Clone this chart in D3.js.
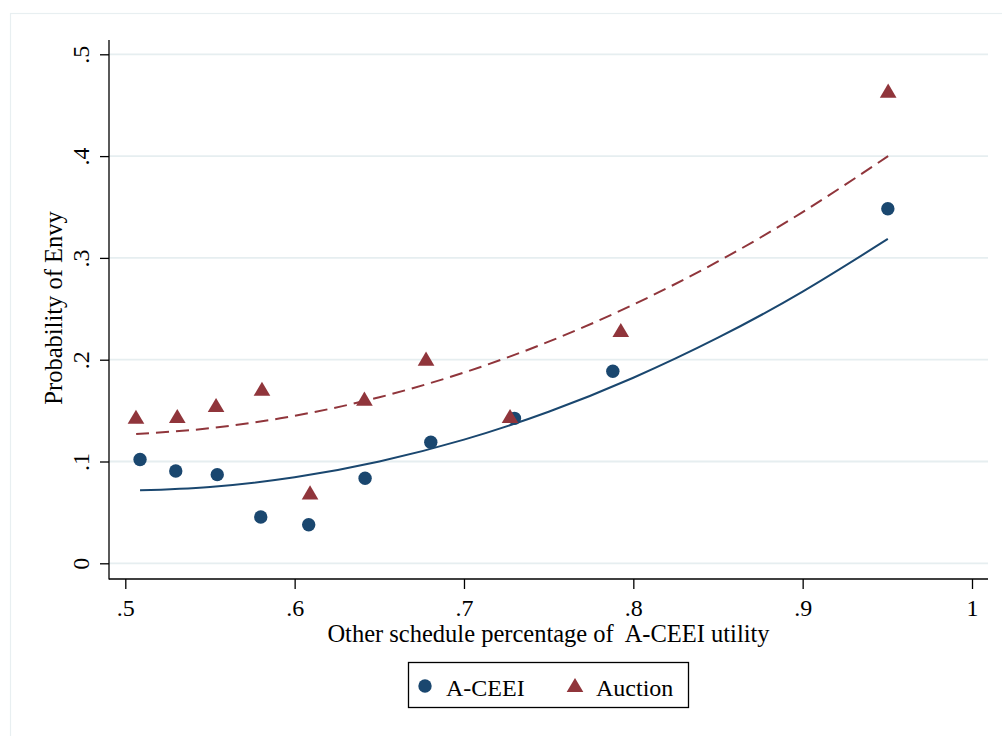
<!DOCTYPE html>
<html>
<head>
<meta charset="utf-8">
<script src="https://cdnjs.cloudflare.com/ajax/libs/d3/7.8.5/d3.min.js"></script>
<style>
    body { margin: 0; background: #fff; }
    svg text { font-family: "Liberation Serif", "Times New Roman", serif; fill: #000; }
</style>
</head>
<body>
<div class="wrapper-svg"></div>
<script>
// points
var aceeiX = [0.5087, 0.5298, 0.5543, 0.5800, 0.6083, 0.6416, 0.6804, 0.7298, 0.7879, 0.9503];
var aceeiY = [0.102, 0.0907, 0.0871, 0.0455, 0.0379, 0.0835, 0.119, 0.1424, 0.1886, 0.3483];
var auctionX = [0.5063, 0.5307, 0.5536, 0.5807, 0.6091, 0.6412, 0.6776, 0.7272, 0.7926, 0.9505];
var auctionY = [0.144, 0.1447, 0.1555, 0.1715, 0.0697, 0.1617, 0.201, 0.1447, 0.2292, 0.4643];

// quadratic fit lines
var fitAceeiX = [0.5087, 0.55, 0.60, 0.65, 0.70, 0.75, 0.80, 0.85, 0.90, 0.9503];
var fitAceeiY = [0.0717, 0.0750, 0.0845, 0.1000, 0.1215, 0.1489, 0.1823, 0.2216, 0.2669, 0.3186];
var fitAuctionX = [0.5064, 0.55, 0.60, 0.65, 0.70, 0.75, 0.80, 0.85, 0.90, 0.9505];
var fitAuctionY = [0.127, 0.1327, 0.1449, 0.1631, 0.1874, 0.2177, 0.2541, 0.2965, 0.345, 0.400];

var xTicks = [0.5, 0.6, 0.7, 0.8, 0.9, 1];
var xTickLabels = ['.5', '.6', '.7', '.8', '.9', '1'];
var yTicks = [0, 0.1, 0.2, 0.3, 0.4, 0.5];
var yTickLabels = ['0', '.1', '.2', '.3', '.4', '.5'];

var seriesNames = ['A-CEEI', 'Auction'];

var navy = '#1a476f';
var maroon = '#90353b';

// triangle centred on the middle of its box, like the stata marker
var boxTriangle = {
    draw: function(context, size) {
        var w = Math.sqrt(size * 2 / 0.85);
        var h = w * 0.85;
        context.moveTo(0, -h / 2);
        context.lineTo(w / 2, h / 2);
        context.lineTo(-w / 2, h / 2);
        context.closePath();
    }
};

var svg = d3.select('.wrapper-svg')
    .append('svg')
    .attr('width', 1002)
    .attr('height', 736);

svg.append('rect')
    .attr('x', 10.5)
    .attr('y', 13.5)
    .attr('width', 1010)
    .attr('height', 740)
    .attr('fill', '#fff')
    .attr('stroke', '#e8eff1')
    .attr('stroke-width', 1.2);

var x = d3.scaleLinear().domain([0.5, 1]).range([125.3, 972]);
var y = d3.scaleLinear().domain([0, 0.5]).range([563.3, 54.3]);

var plotLeft = 109, plotRight = 988, plotTop = 40, plotBottom = 579;

//Сетка ----------------------------------------------------------------------
svg.append('g')
    .selectAll('line')
    .data(yTicks)
    .join('line')
    .attr('x1', plotLeft)
    .attr('x2', plotRight)
    .attr('y1', function(d) { return y(d); })
    .attr('y2', function(d) { return y(d); })
    .attr('stroke', '#e6eef0')
    .attr('stroke-width', 1.8);

//Оси ------------------------------------------------------------------------
var yAxis = svg.append('g')
    .attr('transform', 'translate(' + plotLeft + ',0)')
    .call(d3.axisLeft(y).tickValues(yTicks).tickSize(9)
        .tickFormat(function(d, i) { return yTickLabels[i]; }));

yAxis.select('.domain').remove();
yAxis.selectAll('.tick line').attr('stroke', '#000').attr('stroke-width', 1.3);
yAxis.selectAll('.tick text')
    .attr('transform', 'rotate(-90)')
    .attr('x', 0)
    .attr('y', -20)
    .attr('dy', 0)
    .attr('text-anchor', 'middle')
    .style('font-size', '24px');

var xAxis = svg.append('g')
    .attr('transform', 'translate(0,' + plotBottom + ')')
    .call(d3.axisBottom(x).tickValues(xTicks).tickSize(10)
        .tickFormat(function(d, i) { return xTickLabels[i]; }));

xAxis.select('.domain').remove();
xAxis.selectAll('.tick line').attr('stroke', '#000').attr('stroke-width', 1.3);
xAxis.selectAll('.tick text')
    .attr('y', 37)
    .attr('dy', 0)
    .style('font-size', '24px');

svg.append('line')
    .attr('x1', plotLeft).attr('x2', plotLeft)
    .attr('y1', plotTop).attr('y2', plotBottom + 0.6)
    .attr('stroke', '#000').attr('stroke-width', 1.3);

svg.append('line')
    .attr('x1', plotLeft).attr('x2', plotRight)
    .attr('y1', plotBottom).attr('y2', plotBottom)
    .attr('stroke', '#000').attr('stroke-width', 1.3);

//Линии подгонки ---------------------------------------------------------------
var line = d3.line()
    .x(function(d) { return x(d[0]); })
    .y(function(d) { return y(d[1]); })
    .curve(d3.curveNatural);

svg.append('path')
    .datum(d3.zip(fitAceeiX, fitAceeiY))
    .attr('d', line)
    .attr('fill', 'none')
    .attr('stroke', navy)
    .attr('stroke-width', 2);

svg.append('path')
    .datum(d3.zip(fitAuctionX, fitAuctionY))
    .attr('d', line)
    .attr('fill', 'none')
    .attr('stroke', maroon)
    .attr('stroke-width', 2)
    .attr('stroke-dasharray', '13,7');

//Точки ----------------------------------------------------------------------
svg.append('g')
    .selectAll('circle')
    .data(d3.zip(aceeiX, aceeiY))
    .join('circle')
    .attr('cx', function(d) { return x(d[0]); })
    .attr('cy', function(d) { return y(d[1]); })
    .attr('r', 6.7)
    .attr('fill', navy);

svg.append('g')
    .selectAll('path')
    .data(d3.zip(auctionX, auctionY))
    .join('path')
    .attr('transform', function(d) { return 'translate(' + x(d[0]) + ',' + y(d[1]) + ')'; })
    .attr('d', d3.symbol().type(boxTriangle).size(118))
    .attr('fill', maroon);

//Подписи осей ----------------------------------------------------------------
svg.append('text')
    .text('Other schedule percentage of  A-CEEI utility')
    .attr('x', (plotLeft + plotRight) / 2 + 0)
    .attr('y', 642)
    .attr('text-anchor', 'middle')
    .style('white-space', 'pre')
    .style('font-size', '24.5px');

svg.append('text')
    .text('Probability of Envy')
    .attr('transform', 'translate(62,308) rotate(-90)')
    .attr('text-anchor', 'middle')
    .style('font-size', '24.5px');

//Легенда --------------------------------------------------------------------
svg.append('rect')
    .attr('x', 408.5)
    .attr('y', 662.5)
    .attr('width', 280)
    .attr('height', 45)
    .attr('fill', '#fff')
    .attr('stroke', '#000')
    .attr('stroke-width', 1.3);

svg.append('circle')
    .attr('cx', 425)
    .attr('cy', 686)
    .attr('r', 6.7)
    .attr('fill', navy);

svg.append('text')
    .text(seriesNames[0])
    .attr('x', 446)
    .attr('y', 696)
    .style('font-size', '24px');

svg.append('path')
    .attr('transform', 'translate(575,685)')
    .attr('d', d3.symbol().type(boxTriangle).size(118))
    .attr('fill', maroon);

svg.append('text')
    .text(seriesNames[1])
    .attr('x', 596)
    .attr('y', 696)
    .style('font-size', '24px');
</script>
</body>
</html>
